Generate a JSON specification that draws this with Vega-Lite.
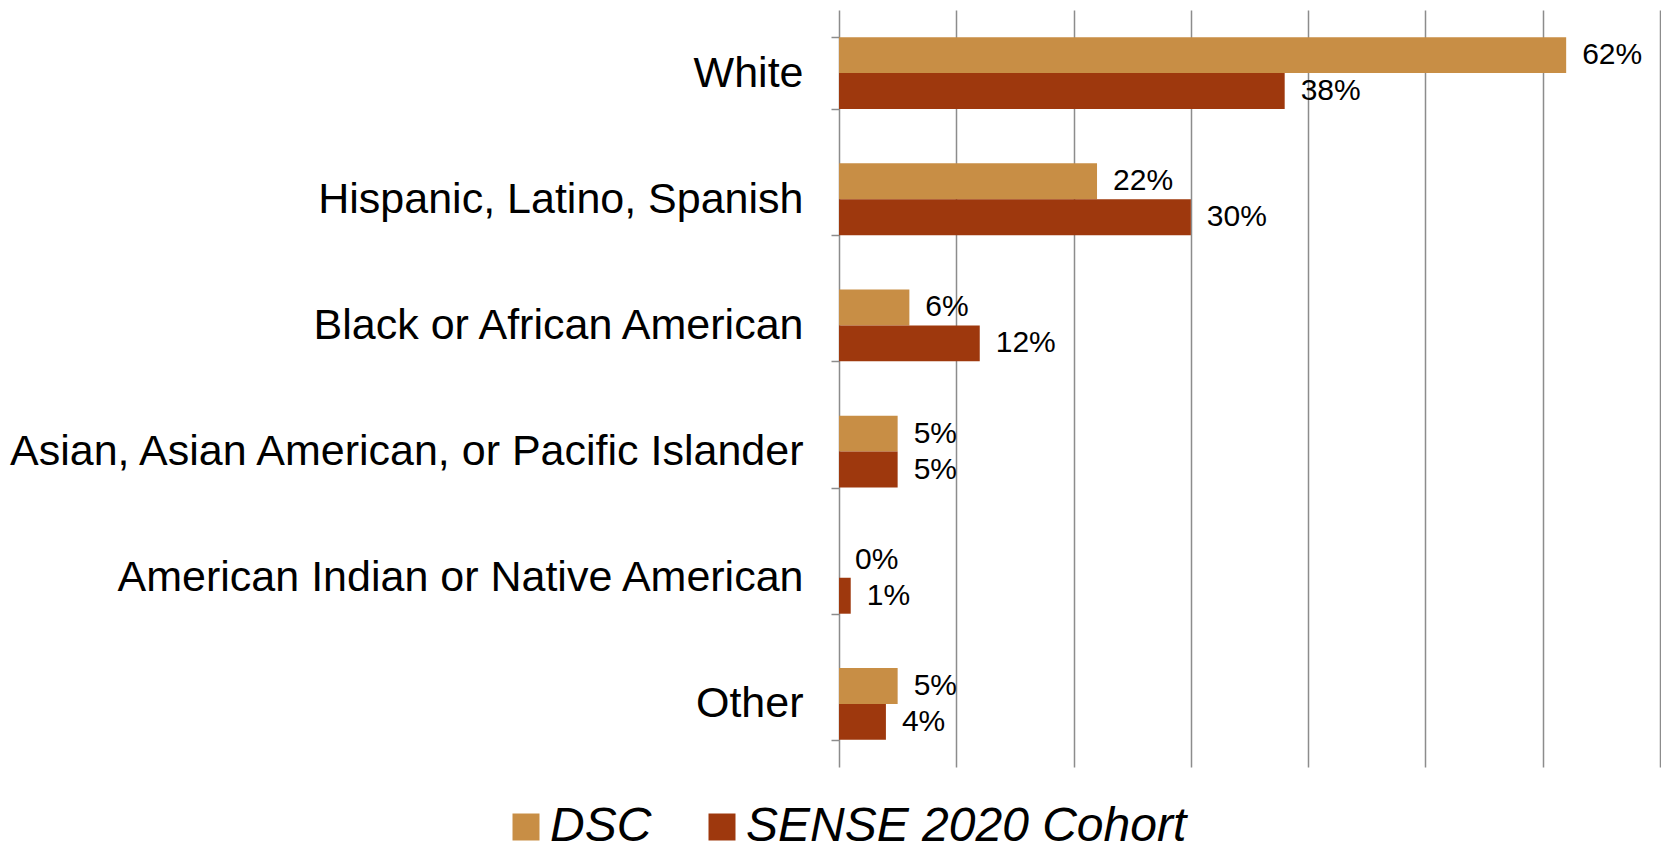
{
  "$schema": "https://vega.github.io/schema/vega-lite/v6.json",
  "autosize": {"type": "none"},
  "width": 821,
  "height": 757,
  "padding": {"left": 839, "top": 10, "right": 1, "bottom": 83},
  "background": "white",
  "config": {"view": {"stroke": null}, "font": "Arial", "text": {"font": "Arial"}, "axis": {"labelFont": "Arial"}, "legend": {"labelFont": "Arial"}},
  "data": {
    "values": [
      {"group": "White", "series": "DSC", "value": 0.62},
      {"group": "White", "series": "SENSE 2020 Cohort", "value": 0.38},
      {"group": "Hispanic, Latino, Spanish", "series": "DSC", "value": 0.22},
      {"group": "Hispanic, Latino, Spanish", "series": "SENSE 2020 Cohort", "value": 0.30},
      {"group": "Black or African American", "series": "DSC", "value": 0.06},
      {"group": "Black or African American", "series": "SENSE 2020 Cohort", "value": 0.12},
      {"group": "Asian, Asian American, or Pacific Islander", "series": "DSC", "value": 0.05},
      {"group": "Asian, Asian American, or Pacific Islander", "series": "SENSE 2020 Cohort", "value": 0.05},
      {"group": "American Indian or Native American", "series": "DSC", "value": 0.0},
      {"group": "American Indian or Native American", "series": "SENSE 2020 Cohort", "value": 0.01},
      {"group": "Other", "series": "DSC", "value": 0.05},
      {"group": "Other", "series": "SENSE 2020 Cohort", "value": 0.04}
    ]
  },
  "encoding": {
    "y": {
      "field": "group",
      "type": "nominal",
      "sort": ["White", "Hispanic, Latino, Spanish", "Black or African American", "Asian, Asian American, or Pacific Islander", "American Indian or Native American", "Other"],
      "scale": {"paddingInner": 0.43, "paddingOuter": 0.215},
      "axis": {
        "title": null,
        "labelFontSize": 43,
        "labelColor": "black",
        "labelPadding": 28,
        "labelLimit": 0,
        "tickBand": "extent",
        "tickSize": 8,
        "tickColor": "#8c8c8c",
        "tickWidth": 1.5,
        "domainColor": "#8c8c8c",
        "domainWidth": 1.5
      }
    },
    "yOffset": {"field": "series", "type": "nominal", "sort": ["DSC", "SENSE 2020 Cohort"]},
    "x": {
      "field": "value",
      "type": "quantitative",
      "scale": {"domain": [0, 0.7], "nice": false},
      "axis": {
        "title": null,
        "labels": false,
        "ticks": false,
        "domain": false,
        "grid": true,
        "values": [0.1, 0.2, 0.3, 0.4, 0.5, 0.6, 0.7],
        "gridColor": "#8c8c8c",
        "gridWidth": 1.5,
        "gridOpacity": 1
      }
    }
  },
  "layer": [
    {
      "mark": {"type": "bar"},
      "encoding": {
        "color": {
          "field": "series",
          "type": "nominal",
          "sort": ["DSC", "SENSE 2020 Cohort"],
          "scale": {"domain": ["DSC", "SENSE 2020 Cohort"], "range": ["#C88E45", "#9E380D"]},
          "legend": {
            "orient": "none",
            "legendX": -337,
            "legendY": 793,
            "direction": "horizontal",
            "title": null,
            "symbolType": "square",
            "symbolSize": 729,
            "symbolStrokeWidth": 0,
            "labelFontSize": 48,
            "labelFontStyle": "italic",
            "labelColor": "black",
            "labelOffset": 0,
            "labelLimit": 0,
            "columnPadding": 46
          }
        }
      }
    },
    {
      "mark": {"type": "text", "align": "left", "baseline": "middle", "dx": 16, "fontSize": 30, "color": "black", "font": "Arial"},
      "encoding": {"text": {"field": "value", "type": "quantitative", "format": ".0%"}}
    }
  ]
}
